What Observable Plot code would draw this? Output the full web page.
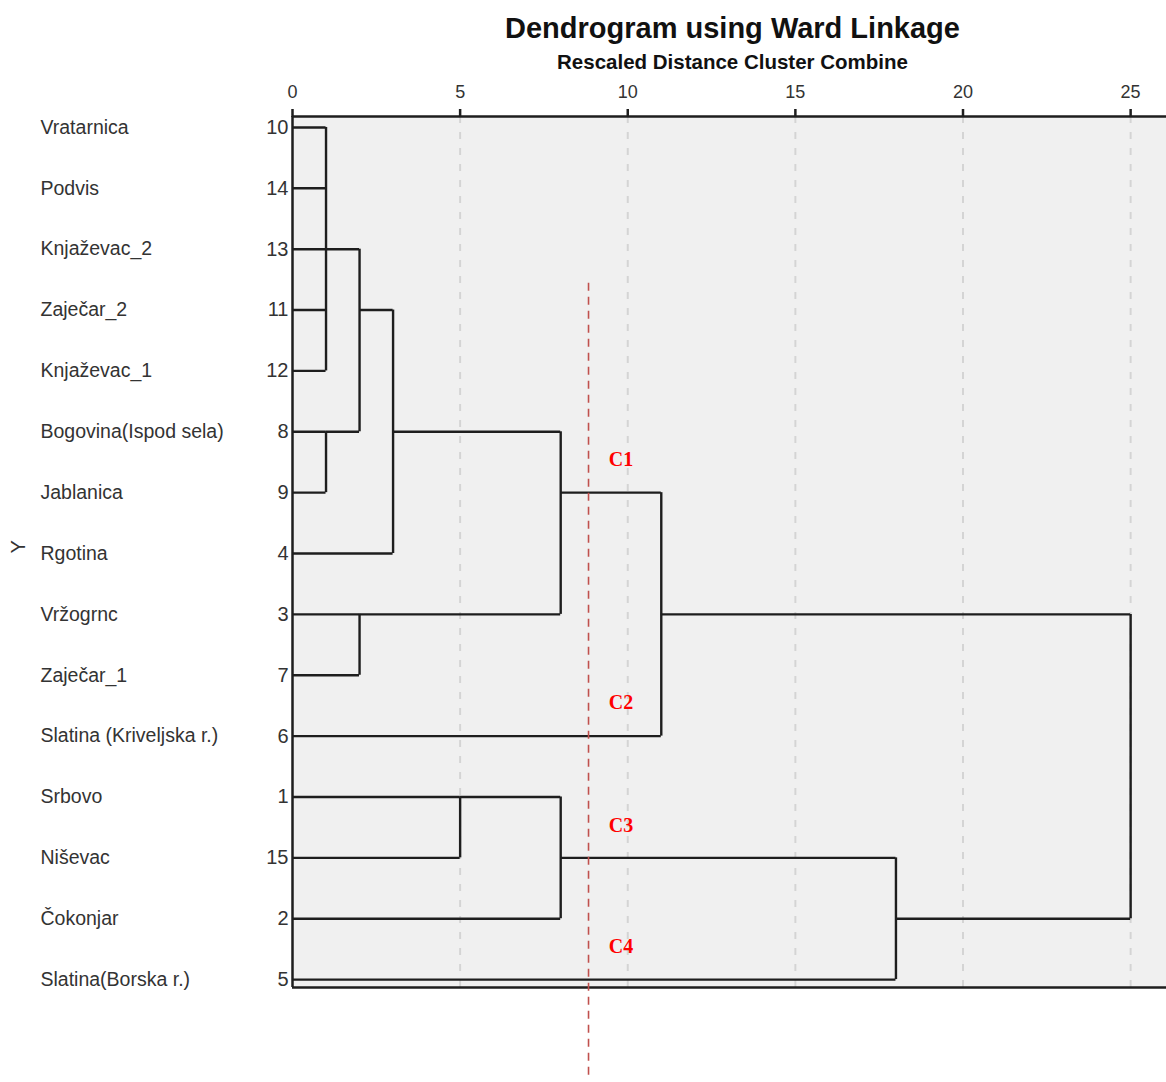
<!DOCTYPE html>
<html><head><meta charset="utf-8">
<script src="https://cdn.jsdelivr.net/npm/d3@7"></script>
<script src="https://cdn.jsdelivr.net/npm/@observablehq/plot@0.6"></script>
<style>body{margin:0;background:#fff;}</style>
</head><body><div id="chart"></div>
<script>
// ---- data ----
const leafNames = ["Vratarnica","Podvis","Knjaževac_2","Zaječar_2","Knjaževac_1","Bogovina(Ispod sela)","Jablanica","Rgotina","Vržogrnc","Zaječar_1","Slatina (Kriveljska r.)","Srbovo","Niševac","Čokonjar","Slatina(Borska r.)"];
const leafIds = [10,14,13,11,12,8,9,4,3,7,6,1,15,2,5];
const mergeChildren = [
  ["Vratarnica","Podvis","Knjaževac_2","Zaječar_2","Knjaževac_1"],
  ["Bogovina(Ispod sela)","Jablanica"],
  ["m0","m1"],
  ["m2","Rgotina"],
  ["Vržogrnc","Zaječar_1"],
  ["m3","m4"],
  ["m5","Slatina (Kriveljska r.)"],
  ["Srbovo","Niševac"],
  ["m7","Čokonjar"],
  ["m8","Slatina(Borska r.)"],
  ["m6","m9"]
];
const mergeHeights = [1,1,2,3,2,8,11,5,8,18,25];
const xTicks = [0,5,10,15,20,25];
const cutHeight = 8.83;
const cutRows = [2.56, 15.63];
const clusterLabels = ["C1","C2","C3","C4"];
const clusterLabelRows = [5.45, 9.45, 11.47, 13.46];
const clusterLabelX = 9.8;
const titleText = "Dendrogram using Ward Linkage";
const subtitleText = "Rescaled Distance Cluster Combine";
const yLabel = "Y";
const yLabelRow = 7;

// ---- build dendrogram segments ----
const nodes = new Map();
leafNames.forEach((n, i) => nodes.set(n, {row: i, h: 0}));
const hSegs = [], vSegs = [];
mergeChildren.forEach((ch, k) => {
  const h = mergeHeights[k];
  const kids = ch.map(c => nodes.get(c));
  kids.forEach(c => hSegs.push({y: c.row, x1: c.h, x2: h}));
  const rows = kids.map(c => c.row);
  const r0 = d3.min(rows), r1 = d3.max(rows);
  vSegs.push({x: h, y1: r0, y2: r1});
  nodes.set("m" + k, {row: Math.floor((r0 + r1) / 2), h});
});
const leafRows = leafNames.map((n, i) => ({name: n, row: i}));
const yTop = -0.18, yBot = 14.13;
const ink = "#1e1e1e";

const chart = Plot.plot({
  width: 1166,
  height: 1082,
  marginLeft: 292,
  marginRight: 0,
  marginTop: 116,
  marginBottom: 95,
  style: {fontFamily: "'Liberation Sans', Arial, sans-serif", background: "#fff"},
  x: {domain: [0, 26.07]},
  y: {domain: [yTop, yBot], reverse: true},
  marks: [
    Plot.frame({fill: "#f0f0f0", stroke: null}),
    Plot.ruleX(xTicks.slice(1), {stroke: "#d4d4d4", strokeWidth: 2, strokeDasharray: "7,9"}),
    Plot.ruleY([yTop, yBot], {stroke: ink, strokeWidth: 2.5}),
    Plot.ruleX([0], {stroke: ink, strokeWidth: 2.5}),
    Plot.axisX({anchor: "top", ticks: xTicks, tickSize: 8, tickPadding: 11, fontSize: 18, strokeWidth: 2.5, stroke: ink, fill: "#333", label: null}),
    Plot.axisY({ticks: d3.range(leafIds.length), tickFormat: i => leafIds[i], tickSize: 0, tickPadding: 4, fontSize: 20, fill: "#333", label: null}),
    Plot.ruleY(hSegs, {y: "y", x1: "x1", x2: "x2", stroke: ink, strokeWidth: 2.4}),
    Plot.ruleX(vSegs, {x: "x", y1: "y1", y2: "y2", stroke: ink, strokeWidth: 2.4}),
    Plot.ruleX([cutHeight], {y1: cutRows[0], y2: cutRows[1], stroke: "#c0504d", strokeWidth: 1.6, strokeDasharray: "8,6"}),
    Plot.text(clusterLabels, {x: clusterLabelX, y: (d, i) => clusterLabelRows[i], text: d => d, fill: "#ff0000", fontSize: 20, fontWeight: "bold", fontFamily: "'Liberation Serif', serif"}),
    Plot.text(leafRows, {y: "row", text: "name", frameAnchor: "left", dx: -252, textAnchor: "start", fontSize: 19.5, fill: "#333"}),
    Plot.text([yLabel], {y: yLabelRow, text: d => d, frameAnchor: "left", dx: -274, rotate: -90, fontSize: 20, fill: "#333"}),
    Plot.text([titleText], {frameAnchor: "top", lineAnchor: "middle", dy: -88, dx: 3, text: d => d, fontSize: 29, fontWeight: "bold", fill: "#111"}),
    Plot.text([subtitleText], {frameAnchor: "top", lineAnchor: "middle", dy: -54, dx: 3, text: d => d, fontSize: 20.5, fontWeight: "bold", fill: "#111"})
  ]
});
document.getElementById("chart").appendChild(chart);
</script>
</body></html>
